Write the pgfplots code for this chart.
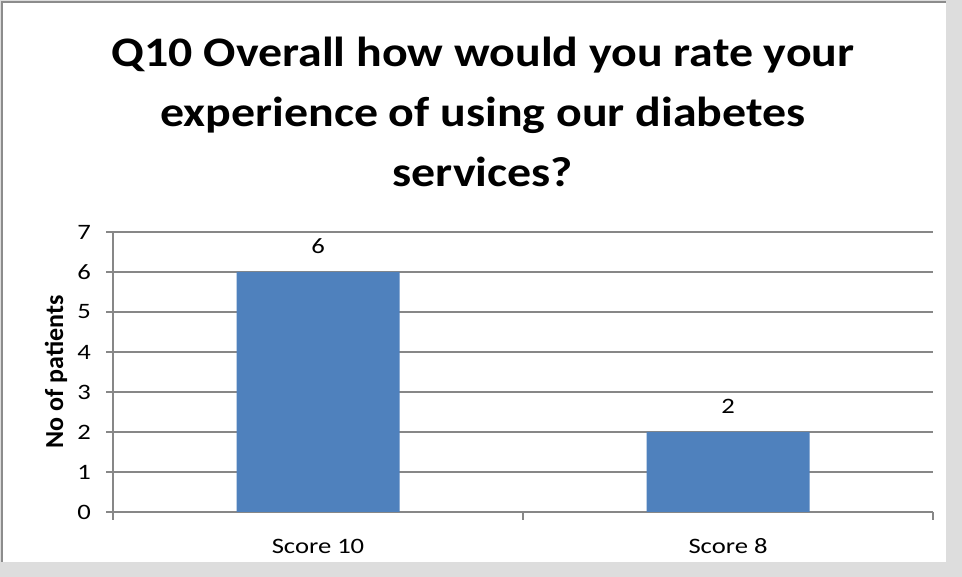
\documentclass[border=0pt]{standalone}
\usepackage{fontspec}
\setmainfont{Carlito}
\usepackage{pgfplots}
\pgfplotsset{compat=1.18}
\definecolor{barblue}{HTML}{4F81BD}
\definecolor{gridgray}{HTML}{878787}
\definecolor{framegray}{HTML}{8C8C8C}
\definecolor{shadowgray}{HTML}{DDDDDD}
\begin{document}
\begin{tikzpicture}[x=1bp,y=1bp]
\useasboundingbox (0,0) rectangle (962,577);
\fill[shadowgray] (0,0) rectangle (962,577);
\fill[white] (2,15) rectangle (946,575);
\draw[framegray, line width=1.5bp] (2,15) -- (2,575) -- (946,575);
\begin{scope}[font=\fontsize{42bp}{50bp}\selectfont\bfseries]
\node[anchor=base, inner sep=0pt, xscale=1.14] at (483,510.3) {Q10 Overall how would you rate your};
\node[anchor=base, inner sep=0pt, xscale=1.14] at (483,450.3) {experience of using our diabetes};
\node[anchor=base, inner sep=0pt, xscale=1.14] at (483,390.3) {services?};
\end{scope}
\begin{axis}[
  at={(113bp,65bp)}, anchor=south west,
  scale only axis, width=820bp, height=280bp,
  xmin=-0.5, xmax=1.5, ymin=0, ymax=7,
  xtick={0,1}, xticklabels={Score 10, Score 8},
  minor xtick={-0.5,0.5,1.5},
  ytick={0,1,...,7},
  axis x line*=bottom, axis y line*=left,
  axis line style={-, gridgray, line width=1.2bp},
  tick align=outside,
  major tick length=7bp, minor tick length=8bp,
  tick style={gridgray, line width=1.2bp},
  major x tick style={draw=none},
  ymajorgrids, grid style={gridgray, line width=1.2bp},
  /pgf/number format/assume math mode=true,
  ticklabel style={font=\fontsize{22bp}{26bp}\selectfont, inner sep=0pt},
  yticklabel style={anchor=east, xshift=-15bp, xscale=1.21},
  xticklabel style={anchor=center, yshift=-27bp, xscale=1.21},
  ylabel={No of patients},
  every axis y label/.style={at={([xshift=-57bp]axis description cs:0,0.5)}, rotate=90, anchor=center, inner sep=0pt, font=\fontsize{26bp}{30bp}\selectfont\bfseries},
  clip=false,
]
\addplot[ybar, bar width=163bp, fill=barblue, draw=none,
  nodes near coords,
  nodes near coords style={font=\fontsize{22bp}{26bp}\selectfont, anchor=center, yshift=26bp, inner sep=0pt, text=black, xscale=1.21}]
  coordinates {(0,6) (1,2)};
\end{axis}
\end{tikzpicture}
\end{document}
